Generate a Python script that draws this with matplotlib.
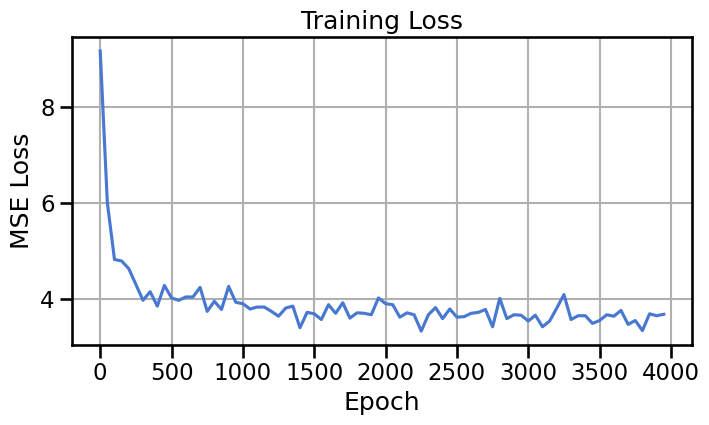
import matplotlib
matplotlib.use('Agg')
import matplotlib.pyplot as plt
import seaborn as sns

epochs = list(range(0, 4000, 50))
loss = [
    9.16, 6.00, 4.82, 4.79, 4.63, 4.30, 3.97, 4.15, 3.85, 4.28,
    4.02, 3.97, 4.04, 4.04, 4.24, 3.74, 3.95, 3.78, 4.26, 3.93,
    3.90, 3.79, 3.83, 3.83, 3.74, 3.64, 3.81, 3.85, 3.40, 3.72,
    3.69, 3.57, 3.88, 3.70, 3.92, 3.60, 3.71, 3.70, 3.67, 4.02,
    3.90, 3.88, 3.62, 3.71, 3.67, 3.33, 3.67, 3.82, 3.59, 3.79,
    3.62, 3.63, 3.70, 3.72, 3.78, 3.42, 4.01, 3.59, 3.67, 3.66,
    3.54, 3.66, 3.42, 3.54, 3.81, 4.09, 3.57, 3.65, 3.65, 3.49,
    3.55, 3.67, 3.64, 3.76, 3.47, 3.55, 3.34, 3.69, 3.65, 3.68,
]

sns.set_context('talk')
plt.rcParams['font.family'] = ['DejaVu Sans']

fig, ax = plt.subplots(figsize=(7.09, 4.25), dpi=100)
fig.subplots_adjust(left=0.1016, right=0.976, top=0.913, bottom=0.188)

ax.plot(epochs, loss, color='#4878d0', linewidth=2.25)
ax.grid(True, color='#b0b0b0', linewidth=1.5)
ax.set_xticks(range(0, 4001, 500))
ax.set_xlabel('Epoch')
ax.set_ylabel('MSE Loss')
ax.set_title('Training Loss')

fig.savefig('out.png', dpi=100)
